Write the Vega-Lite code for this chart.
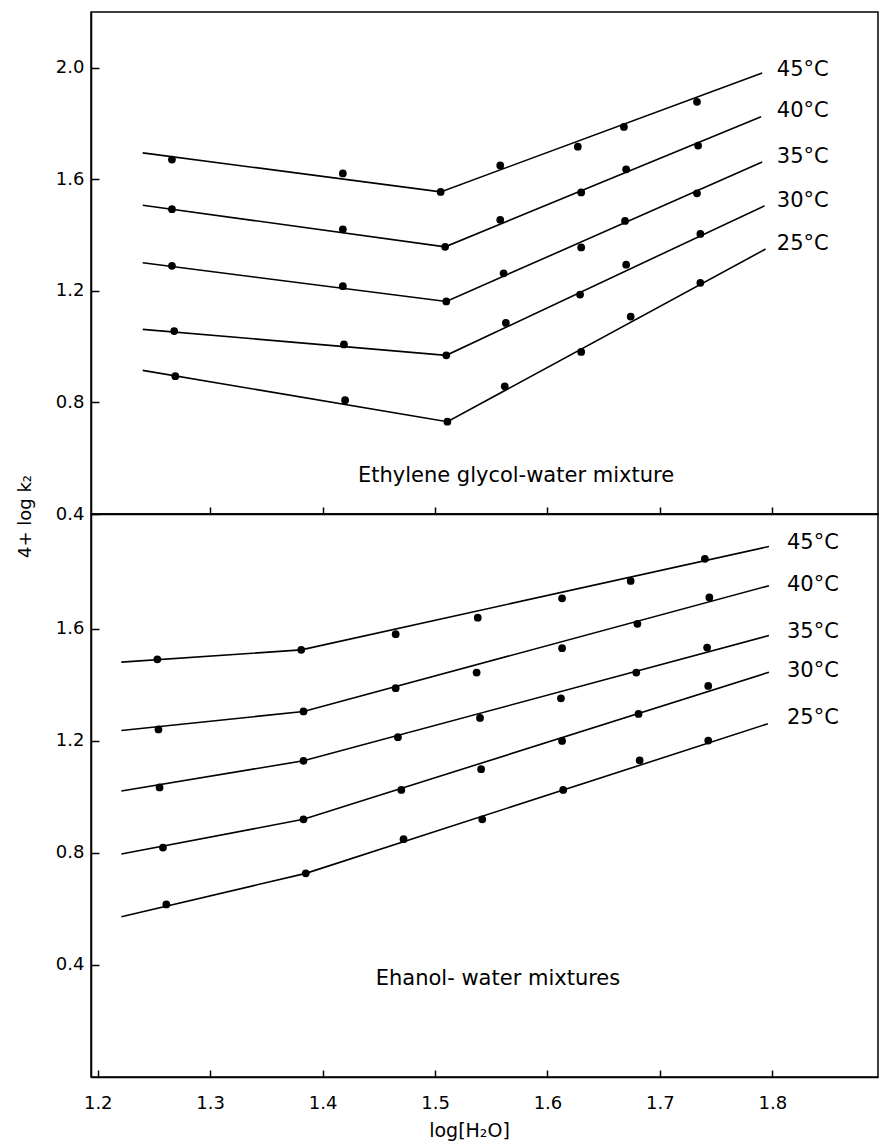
{
  "$schema": "https://vega.github.io/schema/vega-lite/v6.json",
  "background": "white",
  "padding": {"left": 15, "top": 11, "right": 1, "bottom": 5},
  "bounds": "flush",
  "spacing": 0,
  "config": {
    "font": "DejaVu Sans",
    "axis": {"grid": false, "domainColor": "black", "tickColor": "black", "labelColor": "black", "titleColor": "black", "domainWidth": 1.5, "tickWidth": 1.5, "labelFont": "DejaVu Sans", "titleFont": "DejaVu Sans", "titleFontWeight": "normal"}
  },
  "datasets": {
    "top_pts": [
      {"temp": "45", "x": 1.266, "y": 1.671}, {"temp": "45", "x": 1.418, "y": 1.621}, {"temp": "45", "x": 1.505, "y": 1.555}, {"temp": "45", "x": 1.558, "y": 1.650}, {"temp": "45", "x": 1.627, "y": 1.717}, {"temp": "45", "x": 1.668, "y": 1.788}, {"temp": "45", "x": 1.733, "y": 1.878},
      {"temp": "40", "x": 1.266, "y": 1.493}, {"temp": "40", "x": 1.418, "y": 1.421}, {"temp": "40", "x": 1.509, "y": 1.358}, {"temp": "40", "x": 1.558, "y": 1.455}, {"temp": "40", "x": 1.630, "y": 1.553}, {"temp": "40", "x": 1.670, "y": 1.636}, {"temp": "40", "x": 1.734, "y": 1.721},
      {"temp": "35", "x": 1.266, "y": 1.290}, {"temp": "35", "x": 1.418, "y": 1.217}, {"temp": "35", "x": 1.510, "y": 1.162}, {"temp": "35", "x": 1.561, "y": 1.263}, {"temp": "35", "x": 1.630, "y": 1.356}, {"temp": "35", "x": 1.669, "y": 1.451}, {"temp": "35", "x": 1.733, "y": 1.550},
      {"temp": "30", "x": 1.268, "y": 1.056}, {"temp": "30", "x": 1.419, "y": 1.008}, {"temp": "30", "x": 1.510, "y": 0.969}, {"temp": "30", "x": 1.563, "y": 1.085}, {"temp": "30", "x": 1.629, "y": 1.187}, {"temp": "30", "x": 1.670, "y": 1.294}, {"temp": "30", "x": 1.736, "y": 1.404},
      {"temp": "25", "x": 1.269, "y": 0.894}, {"temp": "25", "x": 1.420, "y": 0.808}, {"temp": "25", "x": 1.511, "y": 0.731}, {"temp": "25", "x": 1.562, "y": 0.858}, {"temp": "25", "x": 1.630, "y": 0.981}, {"temp": "25", "x": 1.674, "y": 1.108}, {"temp": "25", "x": 1.736, "y": 1.229}
    ],
    "top_fit": [
      {"temp": "45", "x": 1.240, "y": 1.695}, {"temp": "45", "x": 1.505, "y": 1.555}, {"temp": "45", "x": 1.791, "y": 1.981},
      {"temp": "40", "x": 1.240, "y": 1.507}, {"temp": "40", "x": 1.509, "y": 1.358}, {"temp": "40", "x": 1.790, "y": 1.824},
      {"temp": "35", "x": 1.240, "y": 1.301}, {"temp": "35", "x": 1.510, "y": 1.162}, {"temp": "35", "x": 1.791, "y": 1.662},
      {"temp": "30", "x": 1.240, "y": 1.062}, {"temp": "30", "x": 1.510, "y": 0.969}, {"temp": "30", "x": 1.793, "y": 1.505},
      {"temp": "25", "x": 1.240, "y": 0.915}, {"temp": "25", "x": 1.511, "y": 0.731}, {"temp": "25", "x": 1.794, "y": 1.350}
    ],
    "top_lbl": [
      {"label": "45°C", "x": 1.804, "y": 1.993},
      {"label": "40°C", "x": 1.804, "y": 1.844},
      {"label": "35°C", "x": 1.804, "y": 1.679},
      {"label": "30°C", "x": 1.804, "y": 1.521},
      {"label": "25°C", "x": 1.804, "y": 1.368}
    ],
    "top_ttl": [{"text": "Ethylene glycol-water mixture", "x": 1.572, "y": 0.536}],
    "bot_pts": [
      {"temp": "45", "x": 1.253, "y": 1.491}, {"temp": "45", "x": 1.381, "y": 1.525}, {"temp": "45", "x": 1.465, "y": 1.581}, {"temp": "45", "x": 1.538, "y": 1.640}, {"temp": "45", "x": 1.613, "y": 1.709}, {"temp": "45", "x": 1.674, "y": 1.771}, {"temp": "45", "x": 1.740, "y": 1.850},
      {"temp": "40", "x": 1.254, "y": 1.241}, {"temp": "40", "x": 1.383, "y": 1.305}, {"temp": "40", "x": 1.465, "y": 1.388}, {"temp": "40", "x": 1.537, "y": 1.444}, {"temp": "40", "x": 1.613, "y": 1.531}, {"temp": "40", "x": 1.680, "y": 1.618}, {"temp": "40", "x": 1.744, "y": 1.712},
      {"temp": "35", "x": 1.255, "y": 1.034}, {"temp": "35", "x": 1.383, "y": 1.129}, {"temp": "35", "x": 1.467, "y": 1.213}, {"temp": "35", "x": 1.540, "y": 1.282}, {"temp": "35", "x": 1.612, "y": 1.352}, {"temp": "35", "x": 1.679, "y": 1.444}, {"temp": "35", "x": 1.742, "y": 1.533},
      {"temp": "30", "x": 1.258, "y": 0.819}, {"temp": "30", "x": 1.383, "y": 0.920}, {"temp": "30", "x": 1.470, "y": 1.025}, {"temp": "30", "x": 1.541, "y": 1.099}, {"temp": "30", "x": 1.613, "y": 1.200}, {"temp": "30", "x": 1.681, "y": 1.296}, {"temp": "30", "x": 1.743, "y": 1.396},
      {"temp": "25", "x": 1.261, "y": 0.616}, {"temp": "25", "x": 1.385, "y": 0.727}, {"temp": "25", "x": 1.472, "y": 0.849}, {"temp": "25", "x": 1.542, "y": 0.920}, {"temp": "25", "x": 1.614, "y": 1.025}, {"temp": "25", "x": 1.682, "y": 1.130}, {"temp": "25", "x": 1.743, "y": 1.201}
    ],
    "bot_fit": [
      {"temp": "45", "x": 1.221, "y": 1.481}, {"temp": "45", "x": 1.381, "y": 1.525}, {"temp": "45", "x": 1.797, "y": 1.894},
      {"temp": "40", "x": 1.221, "y": 1.237}, {"temp": "40", "x": 1.383, "y": 1.305}, {"temp": "40", "x": 1.797, "y": 1.754},
      {"temp": "35", "x": 1.221, "y": 1.021}, {"temp": "35", "x": 1.383, "y": 1.129}, {"temp": "35", "x": 1.797, "y": 1.576},
      {"temp": "30", "x": 1.221, "y": 0.796}, {"temp": "30", "x": 1.383, "y": 0.920}, {"temp": "30", "x": 1.797, "y": 1.445},
      {"temp": "25", "x": 1.221, "y": 0.572}, {"temp": "25", "x": 1.385, "y": 0.727}, {"temp": "25", "x": 1.796, "y": 1.261}
    ],
    "bot_lbl": [
      {"label": "45°C", "x": 1.813, "y": 1.906},
      {"label": "40°C", "x": 1.813, "y": 1.757},
      {"label": "35°C", "x": 1.813, "y": 1.590},
      {"label": "30°C", "x": 1.813, "y": 1.451},
      {"label": "25°C", "x": 1.813, "y": 1.283}
    ],
    "bot_ttl": [{"text": "Ehanol- water mixtures", "x": 1.556, "y": 0.35}]
  },
  "vconcat": [
    {
      "width": 787,
      "height": 502,
      "view": {"stroke": "black", "strokeWidth": 1.5},
      "encoding": {
        "x": {"field": "x", "type": "quantitative", "scale": {"domain": [1.194, 1.894], "nice": false, "zero": false},
          "axis": {"orient": "bottom", "values": [1.3, 1.4, 1.5, 1.6, 1.7, 1.8], "labels": false, "title": null, "tickSize": -7}},
        "y": {"field": "y", "type": "quantitative", "scale": {"domain": [0.4, 2.2], "nice": false, "zero": false},
          "axis": {"values": [0.4, 0.8, 1.2, 1.6, 2.0], "format": ".1f", "tickSize": -8, "labelPadding": 15, "labelFontSize": 18,
            "title": "4+ log k₂", "titleFontSize": 18, "titleAngle": -90, "titleX": -66, "titleY": 504, "titleAlign": "center", "titleBaseline": "middle"}}
      },
      "layer": [
        {"data": {"name": "top_fit"}, "mark": {"type": "line", "color": "black", "strokeWidth": 1.6}, "encoding": {"detail": {"field": "temp"}}},
        {"data": {"name": "top_pts"}, "mark": {"type": "point", "filled": true, "color": "black", "size": 60, "opacity": 1}},
        {"data": {"name": "top_lbl"}, "mark": {"type": "text", "align": "left", "baseline": "middle", "fontSize": 21, "color": "black"}, "encoding": {"text": {"field": "label"}}},
        {"data": {"name": "top_ttl"}, "mark": {"type": "text", "align": "center", "baseline": "middle", "fontSize": 21, "color": "black"}, "encoding": {"text": {"field": "text"}}}
      ]
    },
    {
      "width": 787,
      "height": 563,
      "view": {"stroke": "black", "strokeWidth": 1.5},
      "encoding": {
        "x": {"field": "x", "type": "quantitative", "scale": {"domain": [1.194, 1.894], "nice": false, "zero": false},
          "axis": {"values": [1.2, 1.3, 1.4, 1.5, 1.6, 1.7, 1.8], "format": ".1f", "tickSize": -7, "labelPadding": 24, "labelFontSize": 18,
            "title": "log[H₂O]", "titleFontSize": 19, "titleX": 378, "titleY": 53, "titleAlign": "center", "titleBaseline": "middle"}},
        "y": {"field": "y", "type": "quantitative", "scale": {"domain": [0, 2.01], "nice": false, "zero": false},
          "axis": {"values": [0.4, 0.8, 1.2, 1.6], "format": ".1f", "tickSize": -8, "labelPadding": 15, "labelFontSize": 18,
            "title": "4+ log k₂", "titleOpacity": 0, "titleFontSize": 18, "titleAngle": -90, "titleX": -66, "titleY": 0, "titleAlign": "center", "titleBaseline": "middle"}}
      },
      "layer": [
        {"data": {"name": "bot_fit"}, "mark": {"type": "line", "color": "black", "strokeWidth": 1.6}, "encoding": {"detail": {"field": "temp"}}},
        {"data": {"name": "bot_pts"}, "mark": {"type": "point", "filled": true, "color": "black", "size": 60, "opacity": 1}},
        {"data": {"name": "bot_lbl"}, "mark": {"type": "text", "align": "left", "baseline": "middle", "fontSize": 21, "color": "black"}, "encoding": {"text": {"field": "label"}}},
        {"data": {"name": "bot_ttl"}, "mark": {"type": "text", "align": "center", "baseline": "middle", "fontSize": 21, "color": "black"}, "encoding": {"text": {"field": "text"}}}
      ]
    }
  ]
}
